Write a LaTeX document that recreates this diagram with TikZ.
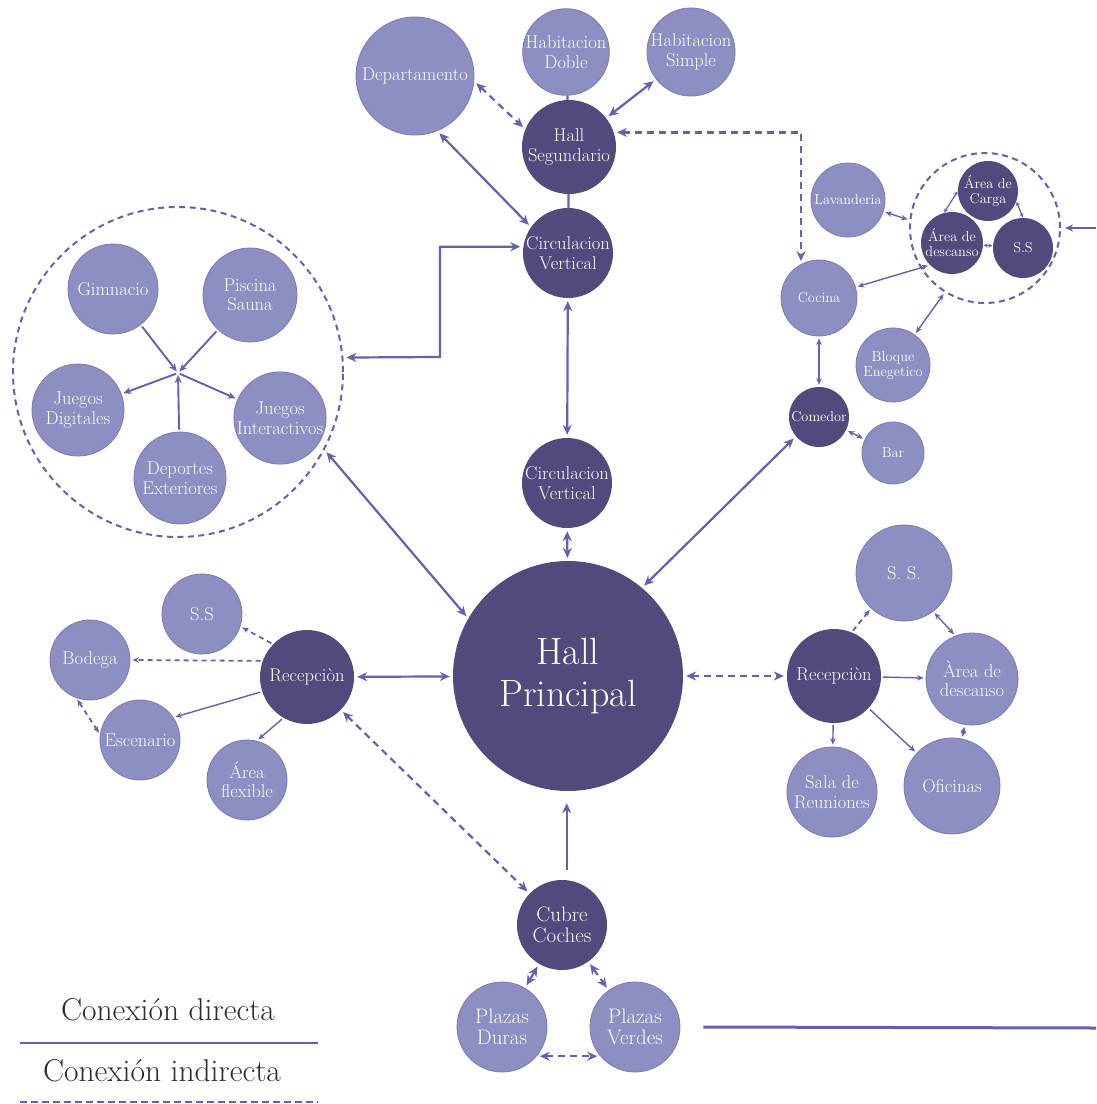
\documentclass[tikz,border=0pt]{standalone}
\usetikzlibrary{arrows.meta}
\definecolor{dk}{RGB}{82,74,125}
\definecolor{lt}{RGB}{141,142,194}
\definecolor{ltb}{RGB}{122,123,182}
\definecolor{ln}{RGB}{98,98,178}
\definecolor{lg}{RGB}{45,45,45}
\newcommand\fsz[2]{\fontsize{#1}{#2}\selectfont}
\begin{document}
\begin{tikzpicture}[x=1pt,y=-1pt,
  dkc/.style={circle,fill=dk,text=white,inner sep=0pt,minimum size=#1,align=center},
  ltc/.style={circle,fill=lt,draw=ltb,line width=0.8pt,text=white,inner sep=0pt,minimum size=#1,align=center},
  mf/.style={font=\fsz{18.5}{19.5}},
  sf/.style={font=\fsz{14.3}{15}},
  bf/.style={font=\fsz{21}{21.5}},
  dsh/.style={dash pattern=on 7pt off 5pt},
  tdsh/.style={dash pattern=on 5pt off 4pt},
  con/.style={draw=ln,line width=2.2pt,shorten >=3pt,shorten <=3pt,>={Stealth[length=10pt,width=9pt]}},
  bi/.style={con,<->},
  sa/.style={con,->},
  plainc/.style={draw=ln,line width=2.2pt},
  mcon/.style={draw=ln,line width=1.9pt,shorten >=2pt,shorten <=2pt,>={Stealth[length=8pt,width=7pt]}},
  tcon/.style={draw=ln,line width=1.4pt,shorten >=2pt,shorten <=2pt,>={Stealth[length=6.5pt,width=5.5pt]}},
  tbi/.style={tcon,<->},
  tsa/.style={tcon,->},
  xcon/.style={draw=ln,line width=1.2pt,shorten >=0.5pt,shorten <=0.5pt,>={Stealth[length=4pt,width=4pt]},<->},
  grp/.style={circle,draw=ln,line width=2pt,dash pattern=on 6pt off 4.5pt,inner sep=0pt,minimum size=#1}
]
\useasboundingbox (0,0) rectangle (1096,1104);
\fill[white] (0,0) rectangle (1096,1104);

% ---------- group circles ----------
\node[grp=330pt] (rec) at (178,372) {};
\node[grp=150pt] (cl) at (985,228) {};

% ---------- central spine ----------
\node[dkc=230pt,font=\fsz{38}{42}] (hp) at (568,676) {Hall\\Principal};
\node[dkc=90pt,mf] (cvl) at (567,483) {Circulacion\\Vertical};
\node[dkc=90pt,mf] (cvu) at (568,253) {Circulacion\\Vertical};
\node[dkc=94pt,mf] (hs) at (569,147) {Hall\\Segundario};
\node[ltc=86pt,mf] (hd) at (566,52) {Habitacion\\Doble};
\node[ltc=86pt,mf] (hsi) at (691,52) {Habitacion\\Simple};
\node[ltc=118pt,mf] (dep) at (415,76) {Departamento};

% ---------- recreation ----------
\node[ltc=90pt,mf] (gim) at (113,289) {Gimnacio};
\node[ltc=94pt,mf] (pis) at (250,295) {Piscina\\Sauna};
\node[ltc=92pt,mf] (jd) at (78,410) {Juegos\\Digitales};
\node[ltc=90pt,mf] (ji) at (280,418) {Juegos\\Interactivos};
\node[ltc=92pt,mf] (de) at (180,478) {Deportes\\Exteriores};
\coordinate (hub) at (178,373);
\coordinate (elbow) at (440,357);

% ---------- service cluster ----------
\node[dkc=60pt,sf] (car) at (988,191) {Área de\\Carga};
\node[dkc=62pt,sf] (desc) at (952,243) {Área de\\descanso};
\node[dkc=60pt,sf] (ss1) at (1023,248) {S.S};
\node[ltc=74pt,sf] (lav) at (848,200) {Lavanderia};
\node[ltc=76pt,sf] (coc) at (819,298) {Cocina};
\node[ltc=74pt,sf] (blq) at (893,365) {Bloque\\Enegetico};
\node[dkc=60pt,sf] (com) at (819,417) {Comedor};
\node[ltc=62pt,sf] (bar) at (893,453) {Bar};
\coordinate (redge) at (1096,228);

% ---------- left reception ----------
\node[dkc=94pt,mf] (rl) at (307,677) {Recepciòn};
\node[ltc=80pt,mf] (ssl) at (202,614) {S.S};
\node[ltc=80pt,mf] (bod) at (90,660) {Bodega};
\node[ltc=80pt,mf] (esc) at (140,740) {Escenario};
\node[ltc=80pt,mf] (afl) at (247,780) {Área\\flexible};

% ---------- right reception ----------
\node[dkc=94pt,mf] (rr) at (834,676) {Recepciòn};
\node[ltc=96pt,mf] (ssr) at (904,573) {S. S.};
\node[ltc=92pt,mf] (der) at (972,679) {Àrea de\\descanso};
\node[ltc=90pt,mf] (sala) at (832,792) {Sala de\\Reuniones};
\node[ltc=96pt,mf] (ofi) at (952,786) {Oficinas};

% ---------- bottom ----------
\node[dkc=90pt,bf] (cc) at (562,925) {Cubre\\Coches};
\node[ltc=90pt,bf] (pd) at (502,1027) {Plazas\\Duras};
\node[ltc=90pt,bf] (pv) at (635,1027) {Plazas\\Verdes};
\coordinate (bend) at (1096,1028);

% ---------- legend ----------
\node[font=\fsz{31.5}{34},text=lg] (lg1) at (168,1010) {Conexión directa};
\node[font=\fsz{31.5}{34},text=lg] (lg2) at (162,1071) {Conexión indirecta};
\draw[draw=ln,line width=2pt] (20,1043) -- (318,1043);
\draw[draw=ln,line width=2.5pt,dash pattern=on 7pt off 4pt] (20,1102) -- (318,1102);

% ---------- connectors: spine ----------
\draw[plainc] (hd) -- (hs);
\draw[plainc] (hs) -- (cvu);
\draw[bi] (hsi) -- (hs);
\draw[bi,dsh] (dep.-5) -- (hs.158);
\draw[bi] (dep.-68) -- (cvu.145);
\draw[bi,dsh] (hs.18) -| (coc.118);
\draw[bi] (cvu.172) -| (elbow) -- (rec.5);
\draw[bi] (cvu) -- (cvl);
\draw[bi] (cvl) -- (hp);
\draw[bi] (rec.-28) -- (hp.150);
\draw[bi] (hp.50) -- (com.-140);
\draw[bi] (rl) -- (hp);
\draw[bi,dsh] (hp) -- (rr);
\draw[bi,dsh] (rl) -- (cc);
\draw[sa,shorten <=10pt,shorten >=12pt] (cc.84) -- (cc.84 |- hp.south);
\draw[bi] (cc) -- (pd);
\draw[bi,dsh] (cc) -- (pv);
\draw[bi,dsh] (pd.-40) -- (pv.220);
\draw[draw=ln,line width=3pt] ([xshift=23pt]pv.east) -- (bend);

% ---------- recreation hub ----------
\draw[mcon,->] (gim) -- (hub);
\draw[mcon,->] (pis) -- (hub);
\draw[mcon,->] (hub) -- (jd);
\draw[mcon,->] (de) -- (hub);
\draw[mcon,->] (hub) -- (ji);

% ---------- service cluster ----------
\draw[tbi] (lav) -- (cl.174);
\draw[tbi] (coc) -- (desc.225);
\draw[tbi] (blq) -- (cl.-122);
\draw[tbi] (coc) -- (com);
\draw[tbi] (com) -- (bar);
\draw[xcon] (desc) -- (ss1);
\draw[xcon] (desc.105) -- (car.180);
\draw[xcon] (car.-20) -- (ss1.90);
\draw[draw=ln,line width=1.8pt,shorten >=4pt,>={Stealth[length=8pt,width=7pt]},->] (redge) -- (cl.east);

% ---------- left reception ----------
\draw[tsa,tdsh,line width=1.8pt] (rl.136) -- (ssl.-18);
\draw[tsa,tdsh,line width=1.8pt] (rl.160) -- (bod.east);
\draw[tsa] (rl.198) -- (esc.34);
\draw[tsa] (rl.240) -- (afl.76);
\draw[tbi,tdsh,line width=1.8pt] (bod.250) -- (esc.172);

% ---------- right reception ----------
\draw[tsa,tdsh,line width=1.8pt] (rr.68) -- (ssr.227);
\draw[tsa] (rr) -- (der);
\draw[tsa] (rr) -- (sala);
\draw[tsa] (rr) -- (ofi);
\draw[tbi] (ssr.-53) -- (der.111);
\draw[tbi] (der.-99) -- (ofi.78);
\end{tikzpicture}
\end{document}
